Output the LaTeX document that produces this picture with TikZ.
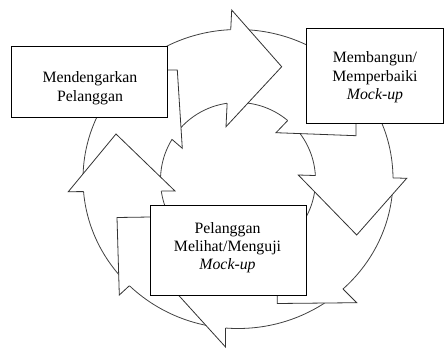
\documentclass[tikz,border=0pt]{standalone}
\usepackage{fontspec}
\setmainfont{Liberation Serif}
\usetikzlibrary{calc}
\begin{document}
\begin{tikzpicture}[x=1pt,y=-1pt,
  ring/.style={draw=black!75, line width=0.8pt},
  edge/.style={draw=black!80, line width=0.8pt, line join=miter},
  blank/.style={fill=white, draw=none},
  box/.style={draw=black, line width=1pt, fill=white, inner sep=0pt},
  lbl/.style={font=\fontsize{15.8}{18.4}\selectfont, align=center, inner sep=0pt, text=black}]
\useasboundingbox (0,0) rectangle (444,348);
% ring
\draw[ring] (238,179) ellipse [x radius=155, y radius=149.5];
\draw[ring] (238,180) circle [radius=77.5];
% top arrow head
\coordinate (tU) at (231.7,10);
\coordinate (tT) at (281.7,66.7);
\coordinate (tL) at (226,126.7);
\path[blank] (tU) -- (tT) -- (tL) -- cycle;
\draw[edge] ($(tU)!0.1688!(tL)$) -- (tU) -- (tT) -- (tL) -- ($(tU)!0.7995!(tL)$);
% right arrow head
\coordinate (rA) at (298.3,175);
\coordinate (rT) at (356.7,235);
\coordinate (rB) at (406.7,178.3);
\path[blank] (rA) -- (rT) -- (rB) -- cycle;
\draw[edge] ($(rA)!0.1577!(rB)$) -- (rA) -- (rT) -- (rB) -- ($(rA)!0.8736!(rB)$);
% left arrow head
\coordinate (lA) at (68.3,191.7);
\coordinate (lT) at (116,134);
\coordinate (lB) at (175,191);
\path[blank] (lA) -- (lT) -- (lB) -- cycle;
\draw[edge] ($(lA)!0.1434!(lB)$) -- (lA) -- (lT) -- (lB) -- ($(lA)!0.8716!(lB)$);
% bottom arrow head
\coordinate (bU) at (225.5,232);
\coordinate (bT) at (172,288);
\coordinate (bL) at (225.5,347);
\path[blank] (bU) -- (bT) -- (bL) -- cycle;
\draw[edge] (225.5,328) -- (bL) -- (bT);
% shapes behind the boxes
\path[blank] (160,70) -- (177.3,70) -- (182.3,148.3) -- (172,139.4) -- (167,117) -- (160,117) -- cycle;
\draw[edge] (167.7,70) -- (177.3,70) -- (182.3,148.3) -- (172,139.4);
\path[blank] (306,112) -- (356,112) -- (356,135.7) -- (276,132.7) -- (287.7,120.5) -- (300,114) -- cycle;
\draw[edge] (356,123.3) -- (356,135.7) -- (276,132.7) -- (287.7,120.5);
\path[blank] (152,217) -- (117,217.5) -- (119.3,295) -- (129.4,285.7) -- (152,285) -- cycle;
\draw[edge] (150.7,217) -- (117,217.5) -- (119.3,295) -- (129.4,285.7);
\path[blank] (277.3,288) -- (277.3,303.5) -- (356.7,302.7) -- (343,289) -- (310,288) -- cycle;
\draw[edge] (277.3,295) -- (277.3,303.5) -- (356.7,302.7) -- (343,289);
% boxes
\node[box, minimum width=156, minimum height=71] (b1) at (89.7,82.2) {};
\node[box, minimum width=137.4, minimum height=95] (b2) at (374.7,75.8) {};
\node[box, minimum width=155.3, minimum height=89.3] (b3) at (228.35,250.35) {};
\node[lbl] (t1) at (90,88.1) {Mendengarkan\\Pelanggan};
\node[lbl] (t2) at (375,77.5) {Membangun/\\Memperbaiki\\\textit{Mock-up}};
\node[lbl] (t3) at (227.5,247.7) {Pelanggan\\Melihat/Menguji\\\textit{Mock-up}};
\end{tikzpicture}
\end{document}
